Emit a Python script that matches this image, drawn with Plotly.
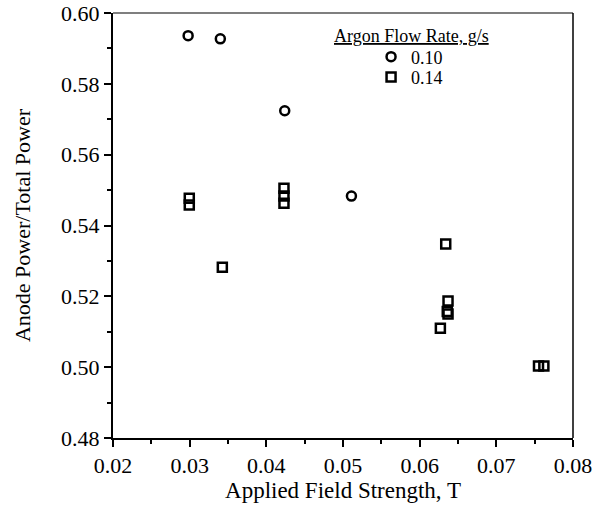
import plotly.graph_objects as go

# Argon flow rate 0.10 g/s (circles)
field_010 = [0.0298, 0.0340, 0.0424, 0.0511]
ratio_010 = [0.5936, 0.5927, 0.5724, 0.5483]

# Argon flow rate 0.14 g/s (squares)
field_014 = [0.02995, 0.02995, 0.0423, 0.0423, 0.0423, 0.03426, 0.0634,
             0.0637, 0.0636, 0.0637, 0.0627, 0.0755, 0.0762]
ratio_014 = [0.5477, 0.5458, 0.5505, 0.5483, 0.5463, 0.5282, 0.5348,
             0.5187, 0.5157, 0.5150, 0.5110, 0.5003, 0.5003]

series_names = ["0.10", "0.14"]
legend_title = "Argon Flow Rate, g/s"
x_title = "Applied Field Strength, T"
y_title = "Anode Power/Total Power"

FONT = "Liberation Serif"

fig = go.Figure()
fig.add_trace(go.Scatter(
    x=field_010, y=ratio_010, mode="markers", name=series_names[0], legend="legend",
    marker=dict(symbol="circle-open", size=9, color="black", line=dict(width=2.5, color="black")),
))
fig.add_trace(go.Scatter(
    x=field_014, y=ratio_014, mode="markers", name=series_names[1], legend="legend2",
    marker=dict(symbol="square-open", size=9, color="black", line=dict(width=2.5, color="black")),
))

axis_common = dict(
    showgrid=False, zeroline=False, showline=True, linecolor="black", linewidth=2,
    ticks="outside", ticklen=7, tickwidth=2, tickcolor="black",
    tickfont=dict(family=FONT, size=22, color="black"),
    tickformat=".2f", automargin=False,
)

fig.update_xaxes(
    range=[0.02, 0.08], dtick=0.01, tick0=0.02,
    minor=dict(ticks="outside", ticklen=4, tickwidth=1.5, dtick=0.005, tickcolor="black"),
    title=dict(text=x_title, font=dict(family=FONT, size=23, color="black"), standoff=3),
    **axis_common,
)
fig.update_yaxes(
    range=[0.48, 0.60], dtick=0.02, tick0=0.48,
    minor=dict(ticks="outside", ticklen=4, tickwidth=1.5, dtick=0.01, tickcolor="black"),
    title=dict(text=y_title, font=dict(family=FONT, size=22, color="black"), standoff=24),
    **axis_common,
)

# thinner top and right frame lines
fig.add_shape(type="line", xref="paper", yref="paper", x0=0, x1=1, y0=1, y1=1,
              line=dict(color="black", width=1.2))
fig.add_shape(type="line", xref="paper", yref="paper", x0=1, x1=1, y0=0, y1=1,
              line=dict(color="black", width=1.5))

fig.add_annotation(
    text="<u>" + legend_title + "</u>", xref="paper", yref="paper",
    x=0.648, y=0.945, showarrow=False, xanchor="center", yanchor="middle",
    font=dict(family=FONT, size=18, color="black"),
)

legend_style = dict(
    xanchor="left", yanchor="middle",
    font=dict(family=FONT, size=18, color="black"),
    bgcolor="rgba(0,0,0,0)", borderwidth=0,
)

fig.update_layout(
    width=594, height=508,
    margin=dict(l=113, r=21, t=13, b=70),
    paper_bgcolor="white", plot_bgcolor="white",
    showlegend=True,
    legend=dict(x=0.561, y=0.8965, **legend_style),
    legend2=dict(x=0.561, y=0.849, **legend_style),
    font=dict(family=FONT, color="black"),
)

fig.write_html(
    "out.html",
    config={"displayModeBar": False},
    post_script="document.body.style.margin='0';document.body.style.overflow='hidden';",
)
